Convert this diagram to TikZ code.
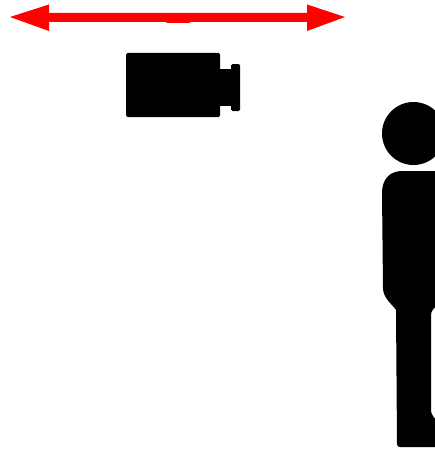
\documentclass[tikz,border=0pt]{standalone}
\begin{document}
\begin{tikzpicture}[x=1pt,y=-1pt,
  arrowshape/.style={fill=red,draw=none},
  solid shape/.style={fill=black,draw=none}]
\useasboundingbox (0,0) rectangle (435,452);
\clip (0,0) rectangle (435,452);
% double arrow
\fill[arrowshape] (10,17) -- (49,4.5) -- (49,13) -- (307,13) -- (307,4.5) -- (345,17) -- (307,31) -- (307,22) -- (190,22) -- (189,23) -- (167,23) -- (166,22) -- (49,22) -- (49,31) -- cycle;
% camera
\fill[solid shape,rounded corners=1.5pt] (126,53) rectangle (220,117);
\fill[solid shape] (218,69) rectangle (233,106);
\fill[solid shape,rounded corners=1.5pt] (231,64) rectangle (240,111);
% person
\fill[solid shape] (413.5,133.5) circle (31.5);
\fill[solid shape] (440,171) -- (402,171) .. controls (390,171) and (382,179) .. (382,193)
  -- (383,288) .. controls (383,298) and (392,304) .. (396,310)
  -- (397,444) .. controls (397,446) and (398,447) .. (400,447)
  -- (440,447) -- (440,425) -- (436,420) .. controls (433,416) and (431,414) .. (431,410)
  -- (431,315) .. controls (431,311) and (434,307) .. (440,304) -- cycle;
\end{tikzpicture}
\end{document}
